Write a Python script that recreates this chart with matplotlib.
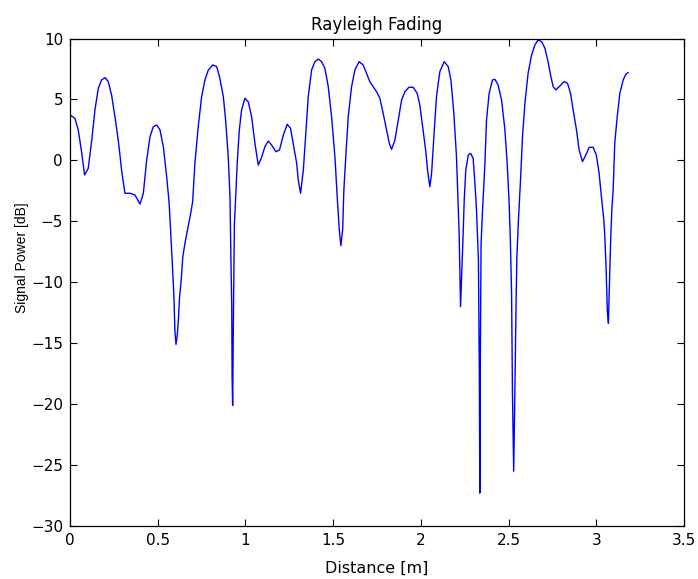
import numpy as np
import matplotlib.pyplot as plt

plt.rcParams['font.family'] = ['DejaVu Sans']

# Received signal power along the track
distance = [0.0, 0.001, 0.028, 0.047, 0.067, 0.083, 0.104, 0.124, 0.142, 0.161,
            0.18, 0.2, 0.218, 0.237, 0.256, 0.275, 0.294, 0.313, 0.342, 0.37,
            0.399, 0.418, 0.437, 0.456, 0.475, 0.494, 0.513, 0.532, 0.551, 0.565,
            0.574, 0.583, 0.593, 0.598, 0.604, 0.61, 0.617, 0.624, 0.634, 0.643,
            0.657, 0.672, 0.686, 0.699, 0.712, 0.731, 0.75, 0.769, 0.788, 0.813,
            0.836, 0.852, 0.874, 0.887, 0.902, 0.912, 0.917, 0.922, 0.924, 0.927,
            0.932, 0.937, 0.953, 0.965, 0.978, 0.997, 1.016, 1.035, 1.054, 1.073,
            1.09, 1.111, 1.13, 1.149, 1.174, 1.194, 1.216, 1.238, 1.257, 1.272,
            1.292, 1.301, 1.314, 1.33, 1.345, 1.358, 1.377, 1.396, 1.415, 1.434,
            1.453, 1.472, 1.491, 1.51, 1.523, 1.535, 1.544, 1.554, 1.561, 1.573,
            1.586, 1.605, 1.624, 1.648, 1.671, 1.69, 1.709, 1.728, 1.747, 1.766,
            1.785, 1.804, 1.82, 1.833, 1.852, 1.871, 1.89, 1.909, 1.932, 1.956,
            1.979, 1.994, 2.01, 2.027, 2.038, 2.051, 2.061, 2.074, 2.089, 2.108,
            2.133, 2.156, 2.171, 2.188, 2.203, 2.212, 2.218, 2.226, 2.241, 2.247,
            2.256, 2.27, 2.283, 2.298, 2.308, 2.317, 2.323, 2.328, 2.333, 2.336,
            2.339, 2.343, 2.35, 2.365, 2.374, 2.389, 2.408, 2.422, 2.44, 2.46,
            2.479, 2.492, 2.503, 2.51, 2.517, 2.522, 2.529, 2.534, 2.542, 2.547,
            2.556, 2.568, 2.579, 2.593, 2.611, 2.631, 2.65, 2.668, 2.688, 2.707,
            2.725, 2.739, 2.754, 2.769, 2.792, 2.816, 2.836, 2.853, 2.868, 2.887,
            2.902, 2.921, 2.94, 2.959, 2.982, 3.0, 3.016, 3.029, 3.043, 3.048,
            3.056, 3.063, 3.069, 3.075, 3.083, 3.089, 3.096, 3.105, 3.119, 3.134,
            3.153, 3.168, 3.181]
power_db = [-0.6, 3.72, 3.45, 2.5, 0.58, -1.2, -0.65, 1.67, 4.13, 5.9,
            6.6, 6.79, 6.46, 5.36, 3.58, 1.67, -0.79, -2.7, -2.7, -2.84,
            -3.58, -2.7, 0.03, 1.94, 2.77, 2.9, 2.5, 1.12, -1.34, -3.5,
            -5.95, -8.4, -11.45, -14.0, -15.1, -14.5, -13.3, -11.3, -9.8, -7.9,
            -6.65, -5.55, -4.5, -3.4, -0.2, 2.77, 5.2, 6.6, 7.4, 7.83,
            7.7, 6.87, 5.23, 3.3, 0.3, -3.0, -7.9, -12.0, -17.8, -20.1,
            -12.0, -5.3, -0.24, 2.5, 4.13, 5.1, 4.8, 3.6, 1.4, -0.38,
            0.17, 1.12, 1.59, 1.26, 0.71, 0.85, 2.08, 2.96, 2.63, 1.4,
            -0.24, -1.6, -2.7, -0.79, 2.5, 5.23, 7.42, 8.1, 8.32, 8.1,
            7.55, 6.05, 3.58, 0.3, -3.0, -5.7, -7.0, -5.7, -2.43, 0.58,
            3.58, 6.05, 7.42, 8.1, 7.83, 7.14, 6.46, 6.05, 5.64, 5.1,
            3.86, 2.5, 1.4, 0.91, 1.67, 3.3, 4.95, 5.64, 6.0, 6.0,
            5.5, 4.54, 2.77, 0.85, -0.79, -2.16, -1.06, 1.94, 5.23, 7.28,
            8.1, 7.69, 6.6, 3.86, 0.3, -3.5, -5.96, -12.0, -5.96, -3.25,
            -0.79, 0.44, 0.58, 0.17, -1.88, -4.07, -6.2, -8.2, -17.2, -27.3,
            -16.1, -6.9, -4.5, -0.24, 3.3, 5.5, 6.6, 6.65, 6.19, 4.95,
            2.5, -0.24, -3.5, -6.5, -11.0, -19.1, -25.5, -20.7, -12.3, -8.0,
            -4.9, -1.6, 1.94, 4.68, 7.14, 8.65, 9.47, 9.88, 9.74, 9.2,
            8.1, 7.0, 6.05, 5.78, 6.1, 6.46, 6.32, 5.5, 4.13, 2.5,
            0.85, -0.1, 0.44, 1.07, 1.07, 0.44, -1.06, -3.0, -4.9, -6.1,
            -9.0, -12.4, -13.36, -10.0, -6.0, -3.9, -2.43, 1.4, 3.58, 5.5,
            6.6, 7.06, 7.2]

x_ticks = [0, 0.5, 1, 1.5, 2, 2.5, 3, 3.5]
x_labels = ['0', '0.5', '1', '1.5', '2', '2.5', '3', '3.5']
y_ticks = [-30, -25, -20, -15, -10, -5, 0, 5, 10]

fig = plt.figure(figsize=(6.98, 5.79), dpi=100)
ax = fig.add_axes([0.1003, 0.0915, 0.8797, 0.842])

ax.plot(distance, power_db, color='#0000ff', lw=1.0)

ax.set_xlim(0, 3.5)
ax.set_ylim(-30, 10)
ax.set_xticks(x_ticks)
ax.set_xticklabels(x_labels)
ax.set_yticks(y_ticks)
ax.tick_params(direction='in', length=5, width=0.8, top=True, right=True,
               labelsize=11, pad=5, colors='black')
for s in ax.spines.values():
    s.set_linewidth(0.9)

ax.set_title('Rayleigh Fading', fontsize=12, pad=6)
ax.set_xlabel('Distance [m]', fontsize=11.5, labelpad=9)
# rotated label sits a bit above the axes centre, in a thinner face
fig.text(22 / 698, 1 - 258 / 579, 'Signal Power [dB]', rotation=90,
         ha='center', va='center', fontsize=10, family='Liberation Sans')

fig.savefig('out.png', dpi=100, facecolor='white')
